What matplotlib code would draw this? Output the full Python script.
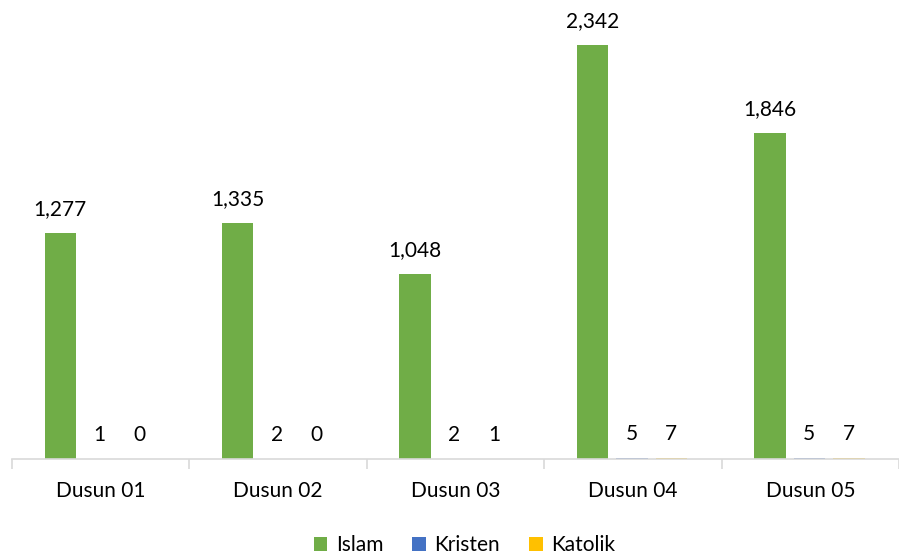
import matplotlib.pyplot as plt
import numpy as np

dusun = ['Dusun 01', 'Dusun 02', 'Dusun 03', 'Dusun 04', 'Dusun 05']
islam = [1277, 1335, 1048, 2342, 1846]
kristen = [1, 2, 2, 5, 5]
katolik = [0, 0, 1, 7, 7]

series = [('Islam', islam, '#70AD47'),
          ('Kristen', kristen, '#4472C4'),
          ('Katolik', katolik, '#FFC000')]

plt.rcParams['font.family'] = ['Lato', 'DejaVu Sans']

fig = plt.figure(figsize=(8.99, 5.54), dpi=100)
ax = fig.add_axes([12 / 899, 95 / 554, 887 / 899, 442 / 554])

x = np.arange(len(dusun))
step = 40 / 180
width = 32 / 180
for i, (name, vals, col) in enumerate(series):
    pos = x + (i - 1) * step - 1 / 180
    bars = ax.bar(pos, vals, width, color=col, label=name)
    for b, v in zip(bars, vals):
        ax.annotate(f'{v:,}', (b.get_x() + b.get_width() / 2, v),
                    xytext=(0, 10), textcoords='offset points',
                    ha='center', va='bottom', fontsize=15, color='#000000')

ax.set_xlim(-0.5, -0.5 + 887 / 180)
ax.set_ylim(0, 2500)
ax.set_yticks([])
ax.set_xticks(x)
ax.set_xticklabels(dusun, fontsize=15)
ax.tick_params(axis='x', which='major', length=0, pad=16)
ax.set_xticks(np.arange(-0.5, 4.6, 1), minor=True)
ax.tick_params(axis='x', which='minor', length=7, color='#D9D9D9', width=1.2)
for s in ['top', 'right', 'left']:
    ax.spines[s].set_visible(False)
ax.spines['bottom'].set_color('#D9D9D9')
ax.spines['bottom'].set_linewidth(1.2)

ax.legend(loc='lower center', bbox_to_anchor=(0.51, -0.26), ncol=3, frameon=False,
          fontsize=15, handlelength=0.65, handleheight=0.65, handletextpad=0.4,
          columnspacing=1.4)

fig.savefig('out.png', dpi=100)
